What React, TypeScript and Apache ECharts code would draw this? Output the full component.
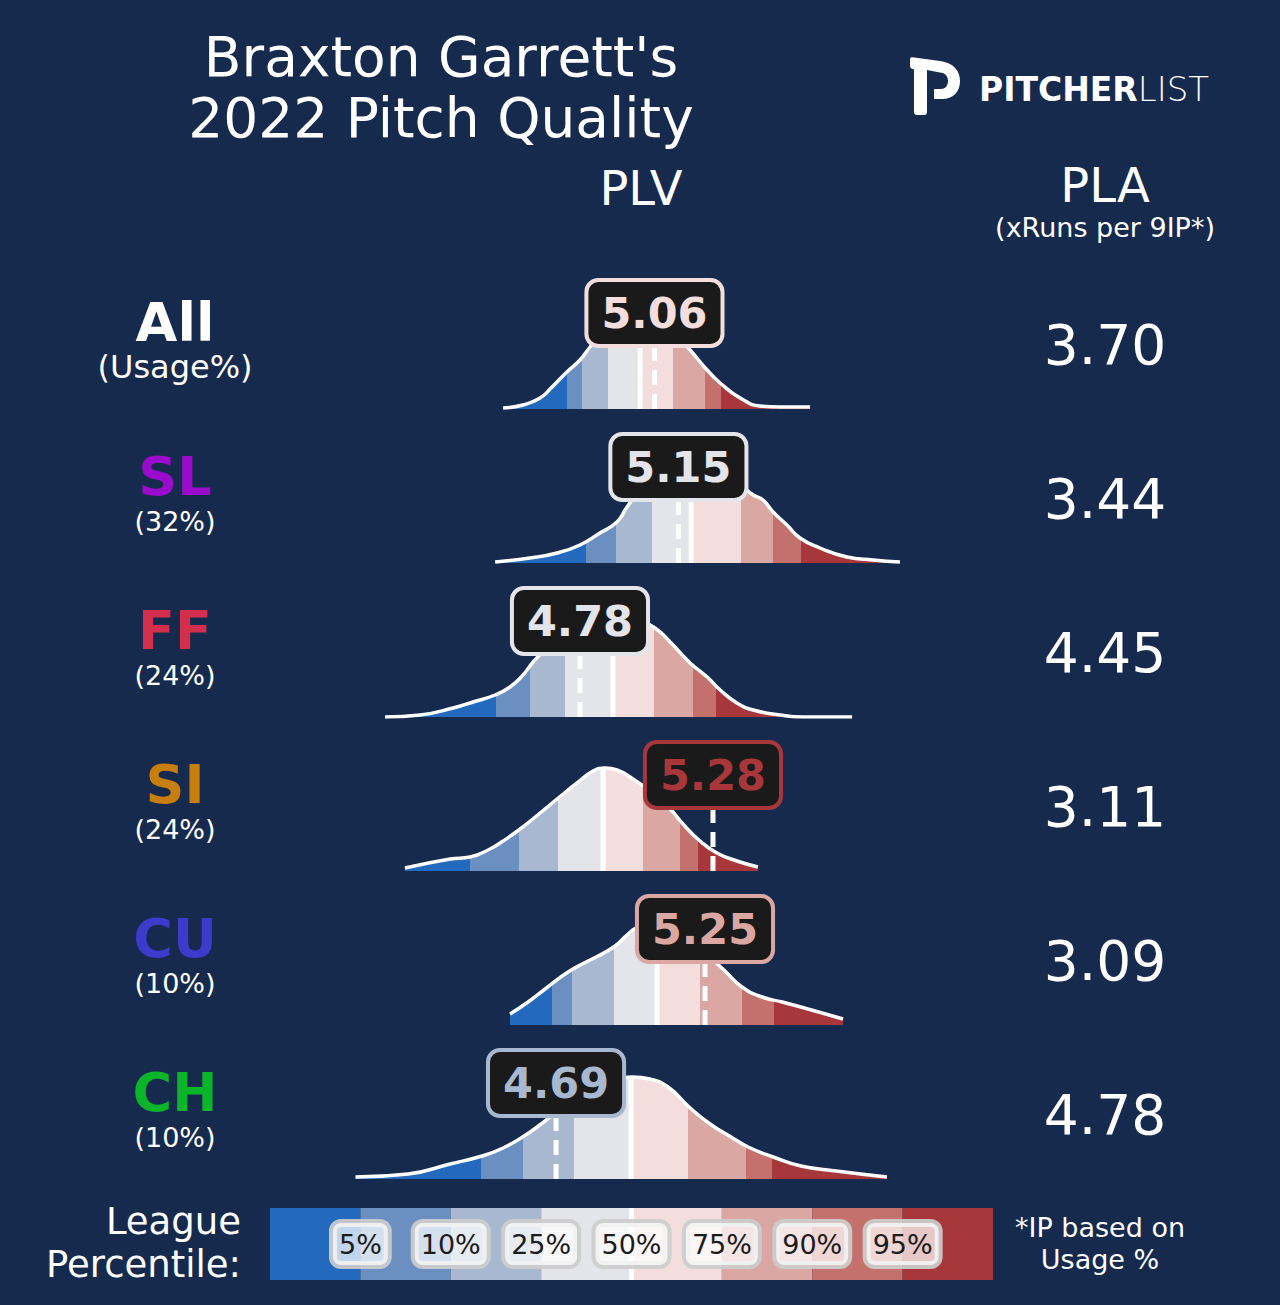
import { useEffect, useRef } from "react";
import * as echarts from "echarts";

// ---------- data ----------
const PITCHES = ["All", "SL", "FF", "SI", "CU", "CH"];
const USAGE = ["(Usage%)", "(32%)", "(24%)", "(24%)", "(10%)", "(10%)"];
const PITCH_COLORS = ["#ffffff", "#9a0bcb", "#d32f4d", "#c77e0b", "#3b3bcc", "#0ab52a"];
const PLV = [5.06, 5.15, 4.78, 5.28, 5.25, 4.69];
const PLA = ["3.70", "3.44", "4.45", "3.11", "3.09", "4.78"];

// league percentile cut points (5,10,25,50,75,90,95) in PLV units
const CUTS_ALL = [4.731, 4.788, 4.885, 5.006, 5.13, 5.25, 5.31];
const CUTS_SL = [4.803, 4.916, 5.051, 5.198, 5.385, 5.506, 5.611];
const CUTS_FF = [4.464, 4.592, 4.724, 4.904, 5.058, 5.205, 5.292];
const CUTS_SI = [4.367, 4.551, 4.698, 4.867, 5.017, 5.156, 5.224];
const CUTS_CU = [4.675, 4.75, 4.908, 5.07, 5.231, 5.389, 5.51];
const CUTS_CH = [4.408, 4.566, 4.758, 4.972, 5.186, 5.404, 5.502];

// density height at league median
const MEDIAN_DENSITY = [0.92, 0.92, 0.99, 1.03, 1.02, 1.02];
const LABEL_DENSITY = 0.96;

// league density curves [PLV, density]
const KDE_ALL = [[4.491, 0.01], [4.566, 0.04], [4.63, 0.11], [4.675, 0.22], [4.731, 0.37], [4.78, 0.49], [4.818, 0.62], [4.855, 0.73], [4.912, 0.85], [5.006, 0.92], [5.1, 0.85], [5.156, 0.7], [5.194, 0.59], [5.258, 0.39], [5.307, 0.26], [5.382, 0.11], [5.457, 0.03], [5.532, 0.02], [5.645, 0.02]];
const KDE_SL = [[4.461, 0.01], [4.592, 0.05], [4.694, 0.1], [4.78, 0.18], [4.855, 0.3], [4.919, 0.41], [4.957, 0.56], [5.006, 0.72], [5.081, 0.84], [5.194, 0.92], [5.307, 0.88], [5.382, 0.78], [5.431, 0.68], [5.468, 0.63], [5.506, 0.51], [5.558, 0.38], [5.607, 0.25], [5.682, 0.15], [5.784, 0.06], [5.882, 0.03], [5.983, 0.01]];
const KDE_FF = [[4.047, 0.0], [4.179, 0.02], [4.303, 0.09], [4.378, 0.15], [4.461, 0.22], [4.517, 0.3], [4.566, 0.42], [4.604, 0.55], [4.667, 0.72], [4.743, 0.88], [4.837, 0.98], [4.931, 1.0], [5.006, 0.96], [5.062, 0.89], [5.119, 0.75], [5.194, 0.54], [5.258, 0.4], [5.307, 0.27], [5.37, 0.14], [5.431, 0.07], [5.532, 0.02], [5.619, 0.0], [5.803, 0.0]];
const KDE_SI = [[4.122, 0.03], [4.292, 0.12], [4.367, 0.14], [4.442, 0.22], [4.491, 0.3], [4.555, 0.42], [4.63, 0.58], [4.694, 0.72], [4.769, 0.88], [4.829, 1.0], [4.874, 1.03], [4.919, 1.01], [4.979, 0.92], [5.043, 0.8], [5.119, 0.62], [5.167, 0.47], [5.231, 0.3], [5.295, 0.18], [5.37, 0.1], [5.449, 0.04]];
const KDE_CU = [[4.517, 0.11], [4.585, 0.23], [4.649, 0.36], [4.724, 0.51], [4.788, 0.61], [4.848, 0.69], [4.912, 0.79], [4.961, 0.91], [4.998, 0.98], [5.062, 1.02], [5.119, 1.0], [5.194, 0.88], [5.269, 0.68], [5.325, 0.54], [5.389, 0.38], [5.464, 0.28], [5.54, 0.23], [5.637, 0.16], [5.769, 0.06]];
const KDE_CH = [[3.936, 0.02], [4.134, 0.05], [4.292, 0.15], [4.412, 0.23], [4.491, 0.31], [4.57, 0.43], [4.634, 0.55], [4.705, 0.7], [4.78, 0.84], [4.855, 0.95], [4.912, 1.0], [4.976, 1.02], [5.043, 1.0], [5.111, 0.92], [5.19, 0.72], [5.269, 0.55], [5.348, 0.42], [5.412, 0.32], [5.506, 0.22], [5.611, 0.13], [5.743, 0.08], [5.934, 0.02]];

const CUTS = [CUTS_ALL, CUTS_SL, CUTS_FF, CUTS_SI, CUTS_CU, CUTS_CH];
const KDES = [KDE_ALL, KDE_SL, KDE_FF, KDE_SI, KDE_CU, KDE_CH];

const TICK_LABELS = ["5%", "10%", "25%", "50%", "75%", "90%", "95%"];
const BAND_NAMES = ["0-5", "5-10", "10-25", "25-50", "50-75", "75-90", "90-95", "95-100"];
const BAND_COLORS = ["#2369be", "#6a8fc0", "#a9b8d1", "#e4e5ea", "#f3dedd", "#daa7a3", "#c4706c", "#a8373b"];

// ---------- layout ----------
const FONT = "DejaVu Sans";
const BG = "#162a4e";
const ROW_BASE = 409;
const ROW_STEP = 154;
const X_MIN = 3.9;
const X_MAX = 6.1;
const GRID_LEFT = 345.9;
const GRID_WIDTH = 585.2;
const GRID_H = 150;
const Y_MAX = 1.5;
const SMOOTH = 0.5;

const LOGO_PATH =
  "M0,2 Q0,0 2.5,0.3 L30,4 C44,6 50,14 50,24 C50,35 43,42 32,42 L24,42 L24,32 L31,32 C35,32 38,29 38,24 C38,19 35,16 30,15.5 L17,13 L17,55 Q17,58 14,58 L7,58 Q4,58 4,55 L4,12.5 L2.5,12 Q0,11.5 0,9 Z";

let logoRegistered = false;
function registerLogo() {
  if (logoRegistered) return;
  echarts.graphic.registerShape("pllogo", echarts.graphic.extendPath(LOGO_PATH, {}));
  logoRegistered = true;
}

function bandIndex(v: number, cuts: number[]) {
  let k = 0;
  for (const c of cuts) if (v >= c) k++;
  return k;
}

function buildOption() {
  const grid: any[] = [];
  const xAxis: any[] = [];
  const yAxis: any[] = [];
  const series: any[] = [];
  const visualMap: any[] = [];

  PITCHES.forEach((_, i) => {
    const base = ROW_BASE + i * ROW_STEP;
    grid.push({ left: GRID_LEFT, width: GRID_WIDTH, top: base - GRID_H, height: GRID_H });
    xAxis.push({ type: "value", gridIndex: i, min: X_MIN, max: X_MAX, show: false });
    yAxis.push({ type: "value", gridIndex: i, min: 0, max: Y_MAX, show: false });
    const cuts = CUTS[i];
    const median = cuts[3];
    const v = PLV[i];
    const col = BAND_COLORS[bandIndex(v, cuts)];
    const areaIdx = series.length;
    series.push({
      type: "line", xAxisIndex: i, yAxisIndex: i, data: KDES[i], smooth: SMOOTH,
      showSymbol: false, silent: true, lineStyle: { width: 0 }, areaStyle: { opacity: 1 }, z: 2,
    });
    series.push({
      type: "line", xAxisIndex: i, yAxisIndex: i, data: [[median, 0], [median, MEDIAN_DENSITY[i]]],
      showSymbol: false, silent: true, lineStyle: { color: "#ffffff", width: 5 }, z: 3,
    });
    series.push({
      type: "line", xAxisIndex: i, yAxisIndex: i, data: [[v, 0], [v, LABEL_DENSITY]],
      showSymbol: false, silent: true, lineStyle: { color: "#ffffff", width: 5, type: [15, 9] }, z: 3,
    });
    series.push({
      type: "line", xAxisIndex: i, yAxisIndex: i, data: KDES[i], smooth: SMOOTH,
      showSymbol: false, silent: true, lineStyle: { color: "#ffffff", width: 3.5 }, z: 4,
    });
    series.push({
      type: "scatter", xAxisIndex: i, yAxisIndex: i, data: [[v, LABEL_DENSITY]], symbolSize: 1, silent: true,
      itemStyle: { color: "rgba(0,0,0,0)", opacity: 1 }, z: 6,
      label: {
        show: true, position: "inside", formatter: v.toFixed(2), fontFamily: FONT, fontSize: 43, fontWeight: "bold",
        color: col, backgroundColor: "#1a1a1a", borderColor: col, borderWidth: 4, borderRadius: 10,
        padding: [5, 13, 3, 13], lineHeight: 54, opacity: 1,
      },
    });
    const pieces: any[] = [{ lt: cuts[0], color: BAND_COLORS[0] }];
    for (let k = 1; k < cuts.length; k++) pieces.push({ gte: cuts[k - 1], lt: cuts[k], color: BAND_COLORS[k] });
    pieces.push({ gte: cuts[cuts.length - 1], color: BAND_COLORS[cuts.length] });
    visualMap.push({ type: "piecewise", show: false, dimension: 0, seriesIndex: areaIdx, pieces });
  });

  // legend bar
  grid.push({ left: 270, width: 723, top: 1208, height: 72 });
  xAxis.push({ type: "category", gridIndex: 6, data: BAND_NAMES, show: false });
  xAxis.push({ type: "value", gridIndex: 6, min: 0, max: 8, show: false });
  yAxis.push({ type: "value", gridIndex: 6, min: 0, max: 1, show: false });
  series.push({
    type: "bar", xAxisIndex: 6, yAxisIndex: 6, silent: true, barCategoryGap: "0%", barGap: "0%",
    data: BAND_COLORS.map((c) => ({ value: 1, itemStyle: { color: c } })),
  });
  series.push({
    type: "line", xAxisIndex: 7, yAxisIndex: 6, data: [[4, 0], [4, 1]], showSymbol: false, silent: true,
    lineStyle: { color: "#ffffff", width: 5 }, z: 3,
  });
  series.push({
    type: "scatter", xAxisIndex: 7, yAxisIndex: 6, silent: true, symbolSize: 1, z: 5,
    itemStyle: { color: "rgba(0,0,0,0)", opacity: 1 },
    data: TICK_LABELS.map((t, k) => ({ name: t, value: [k + 1, 0.5] })),
    label: {
      show: true, position: "inside", formatter: "{b}", fontFamily: FONT, fontSize: 27, color: "#1c1c1c",
      backgroundColor: "rgba(255,255,255,0.72)", borderColor: "rgba(205,205,205,0.92)", borderWidth: 4,
      borderRadius: 8, padding: [5, 6, 3, 6], lineHeight: 34, opacity: 1,
    },
  });

  const txt = (x: number, y: number, text: string, size: number, extra: any = {}) => ({
    type: "text", x, y, silent: true,
    style: { text, fill: "#ffffff", fontSize: size, fontFamily: FONT, align: "center", verticalAlign: "middle", ...extra },
  });

  const graphic: any[] = [
    txt(441, 87, "Braxton Garrett's\n2022 Pitch Quality", 55, { lineHeight: 61 }),
    txt(641, 188, "PLV", 48),
    txt(1105, 185, "PLA", 48),
    txt(1105, 227, "(xRuns per 9IP*)", 27),
    { type: "pllogo", x: 910, y: 57, silent: true, shape: {}, style: { fill: "#ffffff" } },
    {
      type: "text", x: 979, y: 89, silent: true,
      style: {
        text: "{a|PITCHER}{b|LIST}", align: "left", verticalAlign: "middle",
        rich: {
          a: { fill: "#ffffff", fontSize: 33, fontWeight: "bold", fontFamily: FONT },
          b: { fill: "#ffffff", fontSize: 34, fontWeight: 200, fontFamily: FONT },
        },
      },
    },
    txt(241, 1243, "League\nPercentile:", 37, { align: "right", lineHeight: 43 }),
    txt(1100, 1243, "*IP based on\nUsage %", 27, { lineHeight: 32 }),
  ];
  PITCHES.forEach((p, i) => {
    const base = ROW_BASE + i * ROW_STEP;
    graphic.push(txt(175, base - 87, p, 54, { fontWeight: "bold", fill: PITCH_COLORS[i] }));
    graphic.push(txt(175, base - 42, USAGE[i], i === 0 ? 32 : 27));
    graphic.push(txt(1105, base - 64, PLA[i], 55));
  });

  return { animation: false, backgroundColor: BG, grid, xAxis, yAxis, series, visualMap, graphic };
}

export default function App() {
  const ref = useRef<HTMLDivElement>(null);
  useEffect(() => {
    document.body.style.margin = "0";
    registerLogo();
    const chart = echarts.init(ref.current!, undefined, { renderer: "svg" });
    chart.setOption(buildOption() as any);
    return () => chart.dispose();
  }, []);
  return <div ref={ref} style={{ width: 1280, height: 1305 }} />;
}
